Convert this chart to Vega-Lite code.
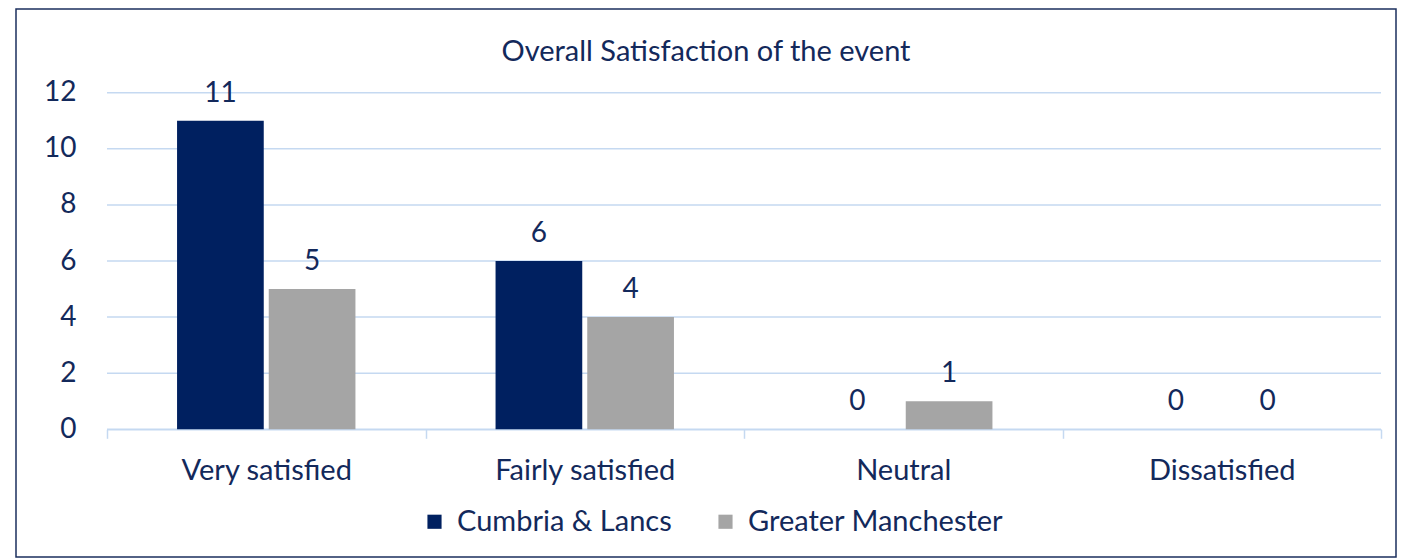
{
  "$schema": "https://vega.github.io/schema/vega-lite/v6.json",
  "width": 1380,
  "height": 548,
  "autosize": {"type": "none"},
  "padding": {"left": 16, "top": 9, "right": 5, "bottom": 1},
  "background": "white",
  "config": {
    "view": {"stroke": "#1B2F5E", "strokeWidth": 1.5, "fill": "white"},
    "font": "Lato",
    "text": {"font": "Lato"}
  },
  "title": {
    "text": "Overall Satisfaction of the event",
    "anchor": "middle",
    "frame": "group",
    "offset": -81,
    "baseline": "alphabetic",
    "fontSize": 29,
    "fontWeight": "normal",
    "font": "Lato",
    "color": "#13295B"
  },
  "datasets": {
    "grid": [{"v": 0}, {"v": 2}, {"v": 4}, {"v": 6}, {"v": 8}, {"v": 10}, {"v": 12}],
    "bars": [
      {"category": "Very satisfied", "region": "Cumbria & Lancs", "count": 11},
      {"category": "Very satisfied", "region": "Greater Manchester", "count": 5},
      {"category": "Fairly satisfied", "region": "Cumbria & Lancs", "count": 6},
      {"category": "Fairly satisfied", "region": "Greater Manchester", "count": 4},
      {"category": "Neutral", "region": "Cumbria & Lancs", "count": 0},
      {"category": "Neutral", "region": "Greater Manchester", "count": 1},
      {"category": "Dissatisfied", "region": "Cumbria & Lancs", "count": 0},
      {"category": "Dissatisfied", "region": "Greater Manchester", "count": 0}
    ]
  },
  "layer": [
    {
      "data": {"name": "grid"},
      "mark": {"type": "rule", "color": "#C5D9F1", "strokeWidth": 1.5},
      "encoding": {
        "y": {
          "field": "v",
          "type": "quantitative",
          "scale": {"domain": [0, 12], "range": [420.3, 83.7], "nice": false, "zero": true},
          "axis": {
            "values": [0, 2, 4, 6, 8, 10, 12],
            "grid": false,
            "domain": false,
            "ticks": false,
            "labelPadding": 31,
            "labelFontSize": 28,
            "labelFont": "Lato",
            "labelColor": "#13295B",
            "title": null,
            "offset": -91
          }
        },
        "x": {"datum": 0, "type": "quantitative", "scale": {"domain": [0, 1], "range": [91, 1365]}, "axis": null},
        "x2": {"datum": 1}
      }
    },
    {
      "data": {"name": "bars"},
      "encoding": {
        "x": {
          "field": "category",
          "type": "nominal",
          "sort": ["Very satisfied", "Fairly satisfied", "Neutral", "Dissatisfied"],
          "scale": {"range": [91, 1365], "paddingInner": 0, "paddingOuter": 0},
          "axis": {
            "title": null,
            "labelAngle": 0,
            "tickBand": "extent",
            "tickSize": 9,
            "tickColor": "#C5D9F1",
            "tickWidth": 1.5,
            "domainColor": "#C5D9F1",
            "domainWidth": 1.5,
            "labelPadding": 18,
            "labelFontSize": 29,
            "labelFont": "Lato",
            "labelColor": "#13295B",
            "labelLimit": 400,
            "offset": -127.7
          }
        },
        "xOffset": {
          "field": "region",
          "type": "nominal",
          "sort": ["Cumbria & Lancs", "Greater Manchester"],
          "scale": {"paddingInner": 0.0545, "paddingOuter": 0.764}
        },
        "y": {
          "field": "count",
          "type": "quantitative",
          "scale": {"domain": [0, 12], "range": [420.3, 83.7], "nice": false, "zero": true},
          "axis": {
            "values": [0, 2, 4, 6, 8, 10, 12],
            "grid": false,
            "domain": false,
            "ticks": false,
            "labelPadding": 31,
            "labelFontSize": 28,
            "labelFont": "Lato",
            "labelColor": "#13295B",
            "title": null,
            "offset": -91
          }
        }
      },
      "layer": [
        {
          "mark": {"type": "bar", "strokeWidth": 0},
          "encoding": {
            "color": {
              "field": "region",
              "type": "nominal",
              "scale": {"domain": ["Cumbria & Lancs", "Greater Manchester"], "range": ["#002060", "#A5A5A5"]},
              "legend": {
                "title": null,
                "orient": "none",
                "direction": "horizontal",
                "legendX": 404,
                "legendY": 498,
                "padding": 0,
                "symbolType": "square",
                "symbolSize": 200,
                "symbolStrokeWidth": 0,
                "symbolOpacity": 1,
                "labelFontSize": 29,
                "labelFont": "Lato",
                "labelColor": "#13295B",
                "labelLimit": 500,
                "labelOffset": 8,
                "columnPadding": 39
              }
            }
          }
        },
        {
          "mark": {"type": "text", "dy": -19, "baseline": "alphabetic", "fontSize": 28, "font": "Lato", "color": "#13295B"},
          "encoding": {"text": {"field": "count", "type": "quantitative"}}
        }
      ]
    }
  ],
  "resolve": {"scale": {"x": "independent"}}
}
